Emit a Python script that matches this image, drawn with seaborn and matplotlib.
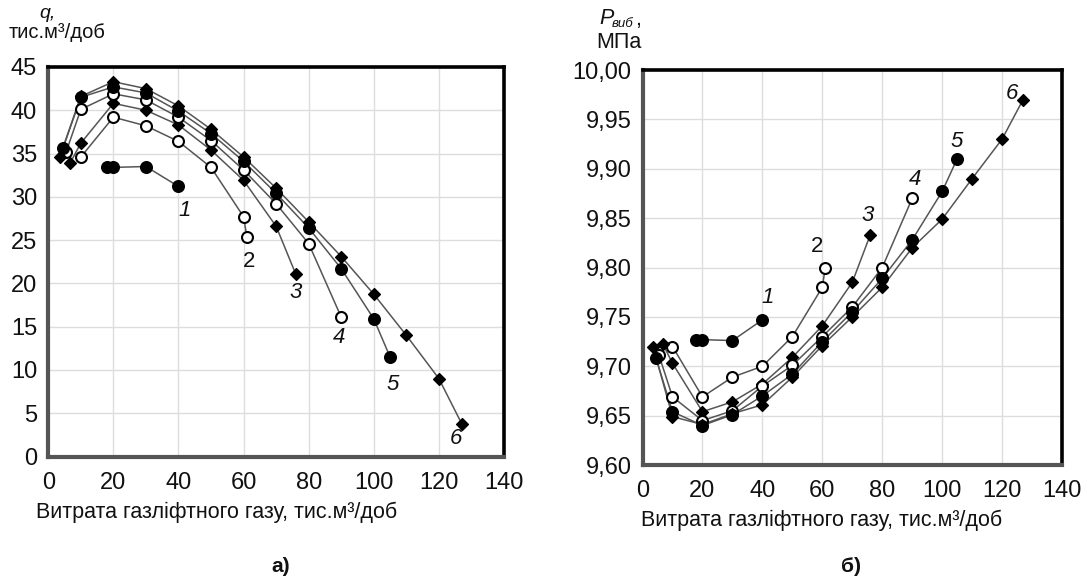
import matplotlib
matplotlib.use("Agg")
import matplotlib.pyplot as plt
import seaborn as sns
import numpy as np
import pandas as pd
from matplotlib.ticker import FuncFormatter

# ---------------- data ----------------
curve_names = ["1", "2", "3", "4", "5", "6"]

x1 = [18, 20, 30, 40]
x2 = [10, 20, 30, 40, 50, 60, 61]
x3 = [6.7, 10, 20, 30, 40, 50, 60, 70, 76]
x4 = [5.5, 10, 20, 30, 40, 50, 60, 70, 80, 90]
x5 = [4.5, 10, 20, 30, 40, 50, 60, 70, 80, 90, 100, 105]
x6 = [3.5, 10, 20, 30, 40, 50, 60, 70, 80, 90, 100, 110, 120, 127]

# q, тис.м3/доб (chart a)
q1 = [33.4, 33.4, 33.5, 31.2]
q2 = [34.6, 39.2, 38.2, 36.4, 33.4, 27.7, 25.4]
q3 = [33.9, 36.2, 40.8, 40.0, 38.3, 35.4, 31.9, 26.6, 21.1]
q4 = [35.2, 40.1, 41.9, 41.2, 39.2, 36.5, 33.1, 29.2, 24.6, 16.1]
q5 = [35.6, 41.5, 42.7, 42.0, 39.9, 37.3, 34.1, 30.4, 26.4, 21.7, 15.9, 11.5]
q6 = [34.6, 41.6, 43.3, 42.5, 40.5, 37.8, 34.6, 31.0, 27.1, 23.1, 18.75, 14.0, 9.0, 3.8]

# P_виб, МПа (chart б)
p1 = [9.727, 9.727, 9.726, 9.747]
p2 = [9.720, 9.669, 9.689, 9.700, 9.730, 9.780, 9.800]
p3 = [9.723, 9.703, 9.654, 9.664, 9.682, 9.709, 9.741, 9.785, 9.833]
p4 = [9.711, 9.669, 9.645, 9.655, 9.680, 9.701, 9.730, 9.760, 9.800, 9.870]
p5 = [9.708, 9.654, 9.640, 9.651, 9.670, 9.692, 9.725, 9.755, 9.789, 9.828, 9.877, 9.910]
p6 = [9.720, 9.649, 9.641, 9.652, 9.661, 9.689, 9.721, 9.750, 9.780, 9.820, 9.849, 9.890, 9.930, 9.970]

# curve label positions
lab_q_x = [42, 61.6, 76, 89.2, 105.7, 125.1]
lab_q_y = [28.4, 22.5, 19.0, 13.7, 8.3, 2.1]
lab_p_x = [41.7, 58.3, 75.2, 90.9, 104.8, 123.3]
lab_p_y = [9.770, 9.821, 9.853, 9.889, 9.928, 9.976]

q_ticks = [0, 5, 10, 15, 20, 25, 30, 35, 40, 45]
p_ticks = [9.60, 9.65, 9.70, 9.75, 9.80, 9.85, 9.90, 9.95, 10.00]
x_ticks = [0, 20, 40, 60, 80, 100, 120, 140]

xs = [x1, x2, x3, x4, x5, x6]
qs = [q1, q2, q3, q4, q5, q6]
ps = [p1, p2, p3, p4, p5, p6]

rows = []
for name, xx, qq, pp in zip(curve_names, xs, qs, ps):
    for i, (a, b, c) in enumerate(zip(xx, qq, pp)):
        rows.append({"curve": name, "idx": i, "x": a, "q": b, "p": c})
df = pd.DataFrame(rows)

# ---------------- style ----------------
sns.set_theme(style="white")
plt.rcParams["font.family"] = ["Liberation Sans", "DejaVu Sans"]

marker_style = {
    "1": dict(marker="o", s=70, facecolor="black", edgecolor="black", linewidth=1),
    "2": dict(marker="o", s=62, facecolor="white", edgecolor="black", linewidth=1.5),
    "3": dict(marker="D", s=36, facecolor="black", edgecolor="black", linewidth=1),
    "4": dict(marker="o", s=62, facecolor="white", edgecolor="black", linewidth=1.5),
    "5": dict(marker="o", s=70, facecolor="black", edgecolor="black", linewidth=1),
    "6": dict(marker="D", s=36, facecolor="black", edgecolor="black", linewidth=1),
}
italic_label = {"1": True, "2": False, "3": True, "4": True, "5": True, "6": True}

fig = plt.figure(figsize=(10.85, 5.87), dpi=100)
ax_a = fig.add_axes([0.0445, 0.2223, 0.4200, 0.6636])
ax_b = fig.add_axes([0.5922, 0.2078, 0.3866, 0.6729])

TICK_FS = 17
LAB_FS = 16
XLAB_FS = 15.5
LINE_COLOR = "#555555"
TXT = "#111111"


def draw(ax, ycol, lab_x, lab_y):
    for name in curve_names:
        d = df[df["curve"] == name].sort_values("idx")
        sns.lineplot(data=d, x="x", y=ycol, ax=ax, sort=False, estimator=None,
                     color=LINE_COLOR, linewidth=1.1, legend=False)
    for name in curve_names:
        d = df[df["curve"] == name]
        st = marker_style[name]
        sns.scatterplot(data=d, x="x", y=ycol, ax=ax, marker=st["marker"], s=st["s"],
                        color=st["facecolor"], edgecolor=st["edgecolor"],
                        linewidth=st["linewidth"], legend=False, zorder=3)
    for name, lx, ly in zip(curve_names, lab_x, lab_y):
        ax.text(lx, ly, name, fontsize=LAB_FS, ha="center", va="center",
                style="italic" if italic_label[name] else "normal", color=TXT)
    ax.set_xlim(0, 140)
    ax.set_xticks(x_ticks)
    ax.grid(True, color="#dddddd", linewidth=1)
    ax.set_axisbelow(True)
    ax.tick_params(axis="both", length=0, labelsize=TICK_FS, colors=TXT)
    ax.tick_params(axis="x", pad=11)
    ax.tick_params(axis="y", pad=8)
    ax.set_xlabel("")
    ax.set_ylabel("")
    for side in ["top", "right"]:
        ax.spines[side].set_color("black")
        ax.spines[side].set_linewidth(2.6)
    for side in ["left", "bottom"]:
        ax.spines[side].set_color("#555555")
        ax.spines[side].set_linewidth(3.0)


draw(ax_a, "q", lab_q_x, lab_q_y)
ax_a.set_ylim(0, 45)
ax_a.set_yticks(q_ticks)

draw(ax_b, "p", lab_p_x, lab_p_y)
ax_b.set_ylim(9.60, 10.00)
ax_b.set_yticks(p_ticks)
ax_b.yaxis.set_major_formatter(FuncFormatter(lambda v, pos: f"{v:.2f}".replace(".", ",")))

# axis titles
xlabel = "Витрата газліфтного газу, тис.м³/доб"
fig.text(217 / 1085, 1 - 512 / 587, xlabel, fontsize=XLAB_FS, ha="center", va="center", color=TXT)
fig.text(822 / 1085, 1 - 520 / 587, xlabel, fontsize=XLAB_FS, ha="center", va="center", color=TXT)

fig.text(47 / 1085, 1 - 13 / 587, "q,", fontsize=14, style="italic", ha="center", va="center", color=TXT)
fig.text(57 / 1085, 1 - 32 / 587, "тис.м³/доб", fontsize=14.5, ha="center", va="center", color=TXT)

fig.text(599 / 1085, 1 - 19 / 587, "P", fontsize=15.5, style="italic", ha="left", va="center", color=TXT)
fig.text(612 / 1085, 1 - 24 / 587, "виб", fontsize=9.5, style="italic", ha="left", va="center", color=TXT)
fig.text(635 / 1085, 1 - 19 / 587, ",", fontsize=15.5, ha="left", va="center", color=TXT)
fig.text(619 / 1085, 1 - 43 / 587, "МПа", fontsize=15.5, ha="center", va="center", color=TXT)

fig.text(281 / 1085, 1 - 567 / 587, "а)", fontsize=15, fontweight="bold", ha="center", va="center", color=TXT)
fig.text(851 / 1085, 1 - 567 / 587, "б)", fontsize=15, fontweight="bold", ha="center", va="center", color=TXT)

fig.savefig("out.png", dpi=100, facecolor="white")
